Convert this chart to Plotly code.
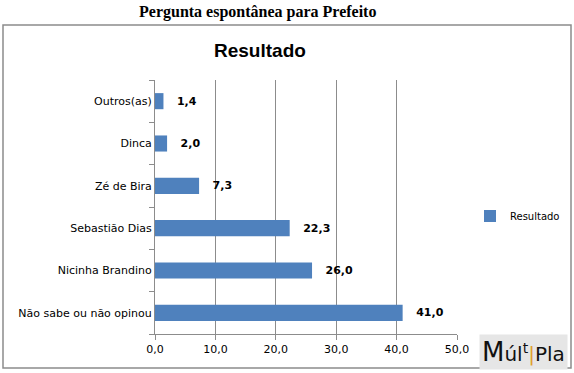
import plotly.graph_objects as go

categories = ["Não sabe ou não opinou", "Nicinha Brandino", "Sebastião Dias", "Zé de Bira", "Dinca", "Outros(as)"]
values = [41.0, 26.0, 22.3, 7.3, 2.0, 1.4]
series_name = "Resultado"
x_ticks = [0, 10, 20, 30, 40, 50]

W, H = 574, 373
L, R, T, B = 155, 457, 80, 334

def px(x):
    return (x - L) / (R - L)

def py(y):
    return (B - y) / (B - T)

fig = go.Figure()
fig.add_trace(go.Bar(
    y=categories, x=values, orientation="h", name=series_name,
    marker=dict(color="#4F81BD", line=dict(width=0)),
    width=0.38,
    texttemplate="   <b>%{x:.1f}</b>", textposition="outside",
    textfont=dict(family="DejaVu Sans", size=11, color="#000000"),
    cliponaxis=False,
    showlegend=True,
))

fig.update_layout(
    width=W, height=H,
    margin=dict(l=L, r=W - R, t=T, b=H - B, autoexpand=False),
    paper_bgcolor="white", plot_bgcolor="white",
    separators=",.",
    font=dict(family="DejaVu Sans", size=11, color="#000000"),
    xaxis=dict(range=[0, 50], tickvals=x_ticks, tickformat=".1f",
               showgrid=True, gridcolor="#8C8C8C", gridwidth=1,
               showline=True, linecolor="#8C8C8C", ticks="outside",
               ticklen=5, tickcolor="#8C8C8C", zeroline=False, automargin=False,
               tickfont=dict(family="DejaVu Sans", size=11)),
    yaxis=dict(showline=True, linecolor="#8C8C8C", ticks="outside",
               tickson="boundaries", ticklen=5, tickcolor="#8C8C8C", automargin=False,
               showgrid=False, tickfont=dict(family="DejaVu Sans", size=11),
               range=[-0.5, 5.5]),
    showlegend=True,
    legend=dict(x=px(470), y=py(216), xanchor="left", yanchor="middle",
                font=dict(family="DejaVu Sans", size=10), itemwidth=30,
                bgcolor="rgba(0,0,0,0)"),
    bargap=0.6,
)

fig.add_shape(type="rect", xref="paper", yref="paper",
              x0=px(3), x1=px(571), y0=py(368), y1=py(25),
              line=dict(color="#8C8C8C", width=1.5), layer="below")

fig.add_annotation(text="<b>Pergunta espontânea para Prefeito</b>",
                   xref="paper", yref="paper", x=px(257), y=py(12),
                   showarrow=False, xanchor="center", yanchor="middle",
                   font=dict(family="Liberation Serif", size=16, color="#000000"))
fig.add_annotation(text="<b>Resultado</b>",
                   xref="paper", yref="paper", x=px(260), y=py(50),
                   showarrow=False, xanchor="center", yanchor="middle",
                   font=dict(family="Liberation Sans", size=19, color="#000000"))
fig.add_annotation(text="<span style='font-size:26px'>M</span>úl<sup>t</sup><span style='color:#E0A030'>|</span>Pla",
                   xref="paper", yref="paper", x=px(523), y=py(352),
                   showarrow=False, xanchor="center", yanchor="middle",
                   bgcolor="#E6E6E6", borderpad=2,
                   font=dict(family="DejaVu Sans", size=20, color="#111111"))

fig.write_html("out.html", config={"displayModeBar": False},
               post_script="document.body.style.margin='0';document.body.style.padding='0';")
